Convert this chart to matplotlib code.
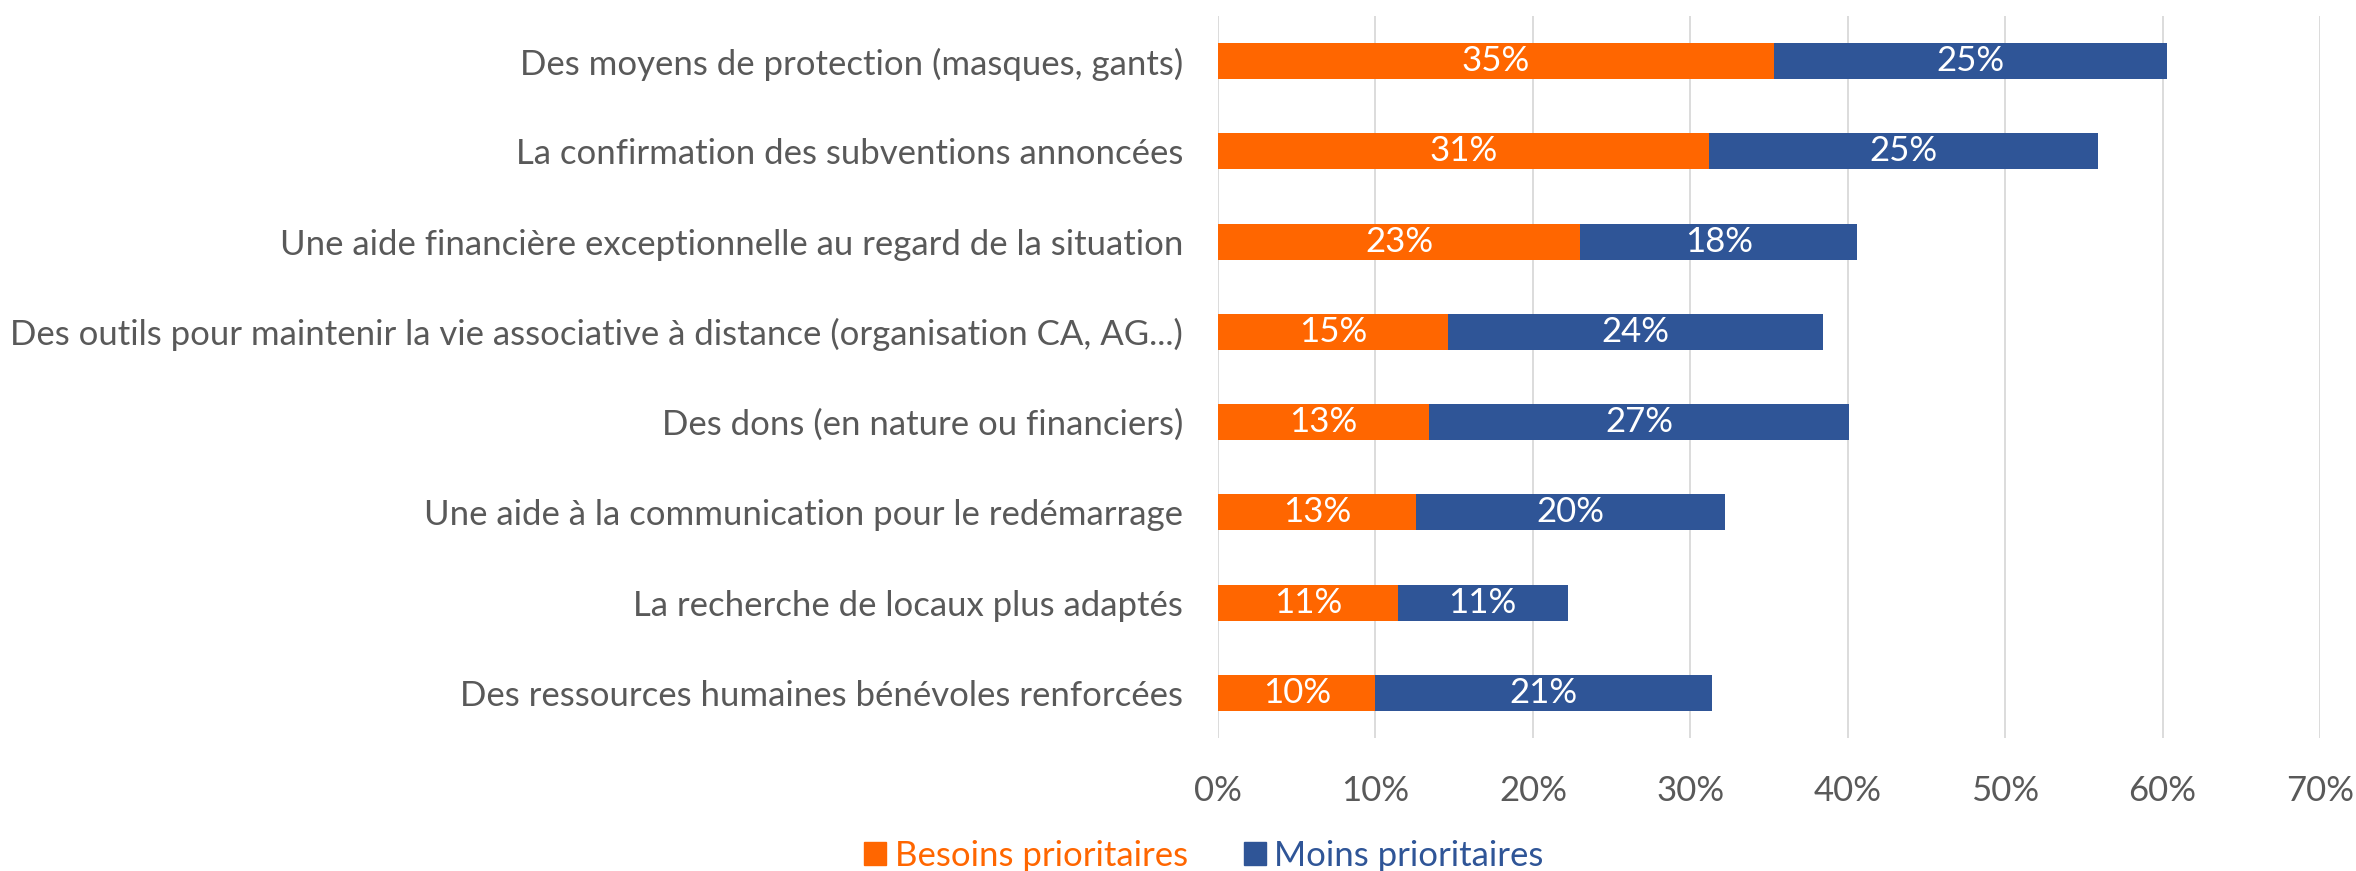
import matplotlib
matplotlib.use("Agg")
import matplotlib.pyplot as plt
import numpy as np
from matplotlib.patches import Patch
from matplotlib.ticker import FuncFormatter

categories = [
    "Des moyens de protection (masques, gants)",
    "La confirmation des subventions annoncées",
    "Une aide financière exceptionnelle au regard de la situation",
    "Des outils pour maintenir la vie associative à distance (organisation CA, AG...)",
    "Des dons (en nature ou financiers)",
    "Une aide à la communication pour le redémarrage",
    "La recherche de locaux plus adaptés",
    "Des ressources humaines bénévoles renforcées",
]
besoins = [0.353, 0.312, 0.230, 0.146, 0.134, 0.126, 0.114, 0.100]
moins = [0.250, 0.247, 0.176, 0.238, 0.267, 0.196, 0.108, 0.214]
series_names = ["Besoins prioritaires", "Moins prioritaires"]
xticks = [0, 0.1, 0.2, 0.3, 0.4, 0.5, 0.6, 0.7]

ORANGE = "#FF6600"
BLUE = "#2F5597"
GREY = "#595959"
FONT = "Lato"

plt.rcParams["font.family"] = [FONT, "DejaVu Sans"]

fig = plt.figure(figsize=(23.56, 8.71), dpi=100)
ax = fig.add_axes([0.517, 0.1527, 0.4677, 0.829])

y = np.arange(len(categories))
b1 = ax.barh(y, besoins, height=0.4, color=ORANGE, zorder=3)
b2 = ax.barh(y, moins, left=besoins, height=0.4, color=BLUE, zorder=3)

ax.set_ylim(len(categories) - 0.5, -0.5)
ax.set_xlim(0, 0.7)
ax.set_xticks(xticks)
ax.xaxis.set_major_formatter(FuncFormatter(lambda v, p: f"{round(v*100)}%"))
ax.set_yticks(y)
ax.set_yticklabels(categories)
ax.grid(axis="x", color="#D9D9D9", linewidth=1.3, zorder=0)
ax.set_axisbelow(True)
for s in ax.spines.values():
    s.set_visible(False)
ax.tick_params(axis="both", length=0, colors=GREY)
ax.tick_params(axis="y", pad=25)
ax.tick_params(axis="x", pad=27)

fs = 24
for t in ax.get_yticklabels() + ax.get_xticklabels():
    t.set_fontsize(fs)
    t.set_color(GREY)

# auto-fit font size to reference label width
fig.canvas.draw()
w = ax.get_yticklabels()[0].get_window_extent().width
fs = fs * 663.0 / w
for t in ax.get_yticklabels() + ax.get_xticklabels():
    t.set_fontsize(fs)

fmt = lambda v: f"{round(v*100)}%"
ax.bar_label(b1, labels=[fmt(v) for v in besoins], label_type="center",
             color="white", fontsize=fs)
ax.bar_label(b2, labels=[fmt(v) for v in moins], label_type="center",
             color="white", fontsize=fs)

handles = [Patch(color=ORANGE), Patch(color=BLUE)]
leg = fig.legend(handles, series_names, loc="center",
                 bbox_to_anchor=(0.511, 0.0175), ncol=2, frameon=False,
                 fontsize=fs, handlelength=0.63, handleheight=0.63,
                 handletextpad=0.25, columnspacing=1.6, borderaxespad=0)
for txt, c in zip(leg.get_texts(), [ORANGE, BLUE]):
    txt.set_color(c)

fig.savefig("out.png", dpi=100)
